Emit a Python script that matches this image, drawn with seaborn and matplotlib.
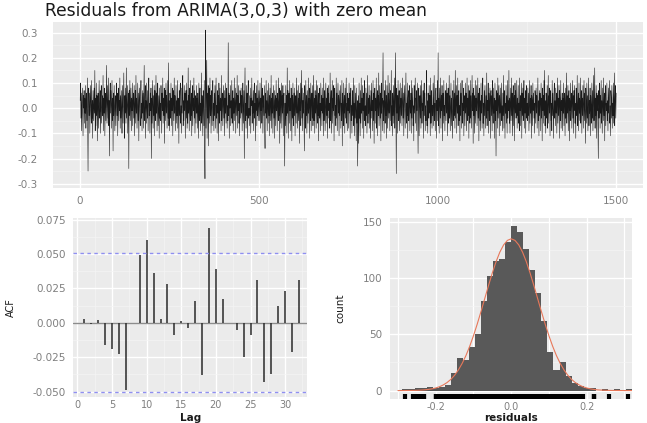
import numpy as np
import pandas as pd
import matplotlib
matplotlib.use("Agg")
import matplotlib.pyplot as plt
import seaborn as sns
from matplotlib.ticker import FixedLocator


# residuals (in hundredths), t = 1..1500, blocks of 250
res_a = [
    3, 10, -4, 6, -9, 2, 8, -3, -11, 5, 0, 7, -6, 4, -2, 9, -8, 1, 6, -5, 12, -7, -25, 4, 8,
    -3, 6, -10, 2, 9, -1, -6, 11, -4, 3, -12, 7, 0, -5, 8, -2, 15, -9, 4, -7, 10, -3, 5, -13, 1,
    6, -8, 2, 11, -4, -1, 7, -10, 3, 9, -6, 0, 5, -3, 13, -9, 4, -2, 8, -11, 1, 6, -5, 3, 17,
    -6, 2, 9, -4, 12, -7, 3, -19, 5, 10, -2, 7, -8, 1, 11, -5, 4, -17, 6, -3, 9, 0, -9, 5, 2,
    -7, 4, 10, -3, 6, -11, 1, 8, -5, 3, -1, 12, -8, 5, -4, 7, 0, -10, 9, 2, -6, 4, 14, -3, -12,
    5, -2, 8, -6, 16, -4, 3, 9, -10, 1, 6, -24, 7, -3, 11, -5, 2, 8, -9, 4, -1, 10, -7, 3, 6,
    -4, 9, -11, 2, 7, -6, 13, -2, 4, -8, 1, 10, -5, 6, -13, 3, 8, -1, -7, 5, 11, -4, 2, -9, 7,
    -2, 6, -8, 4, 17, -5, 1, 9, -12, 3, -6, 10, 0, -4, 7, -9, 5, 12, -3, 2, -10, 6, -1, 8, -20,
    4, -6, 11, 1, -8, 5, -3, 9, -11, 7, 2, -5, 13, -2, 6, -9, 3, 10, -7, 0, 5, -12, 8, -4, 2,
    -5, 9, 3, -10, 6, -1, 12, -6, 4, -3, 8, -14, 2, 7, -5, 10, -2, 5, -8, 1, 11, -4, 18, -7, 3,
]
res_b = [
    -9, 6, 2, -4, 10, -7, 4, -1, 8, -11, 3, 7, -5, 12, -2, 5, -9, 0, 9, -6, 3, -3, 11, -8, 4,
    2, -14, 7, -3, 5, 10, -6, 1, -10, 8, -2, 4, 13, -7, 3, -5, 9, -1, 6, -12, 2, 7, -4, 10, -8,
    3, -6, 16, -2, 5, -9, 8, 0, -5, 11, -3, 6, -11, 2, 9, -7, 4, -1, 12, -4, 7, -10, 3, 5, -6,
    9, -2, 4, -8, 6, 1, -12, 10, -5, 3, 8, -9, 2, -3, 14, -6, 5, -1, -11, 7, 3, -7, 11, -15, -28,
    10, 31, -8, 4, 19, -12, 6, -4, 9, -15, 2, 8, -6, 12, -3, 5, -10, 7, 1, -7, 4, 11, -5, 2, -9,
    6, -3, 9, -8, 3, 12, -4, 1, -10, 7, -2, 5, -13, 10, 0, -6, 8, -1, 4, -9, 13, -5, 3, 6, -7,
    2, 9, -4, 7, -11, 4, -2, 10, -6, 3, 8, -8, 1, -5, 26, -3, 6, -12, 5, 0, 9, -7, 3, -4, 11,
    -6, 2, 7, -9, 4, -2, 12, -5, 1, 8, -10, 3, 6, -3, 13, -8, 5, -1, 9, -6, 2, -11, 7, 4, -4,
    8, -2, 5, -9, 3, 10, -6, 1, 7, -20, 4, 16, -5, 2, -8, 9, -3, 6, -12, 3, 11, -4, 0, -7, 5,
    -3, 8, -10, 4, 1, 12, -6, 3, -2, 7, -9, 5, 10, -4, 2, -13, 6, -1, 9, -7, 4, -3, 11, -5, 1,
]
res_c = [
    7, -5, 2, 10, -8, 4, -1, 12, -6, 3, 8, -10, 1, 5, -3, 9, -7, -16, 6, -2, 11, -4, 3, -9, 7,
    0, -6, 10, -3, 5, -11, 8, 2, -5, 13, -8, 4, -2, 6, -10, 1, 9, -4, 7, -12, 3, 5, -7, 11, -1,
    4, -9, 6, 2, -5, 12, -3, 8, -14, 1, 7, -6, 3, 10, -8, 5, -2, 9, -11, 4, 6, -4, -23, 2, -7,
    9, -3, 5, -10, 16, -2, 7, -12, 3, 6, -6, 11, -1, 4, -9, 8, 2, -13, 5, -4, 10, -7, 1, 6, -3,
    8, -11, 3, 5, -6, 12, -2, 7, -8, 1, 9, -5, 4, -14, 6, -1, 10, -7, 2, 15, -4, 8, -9, 3, -2,
    6, -5, -17, 9, 2, -8, 11, -3, 5, -10, 7, 1, -6, 12, -2, 4, -12, 8, 3, -5, 10, -9, 2, 6, -4,
    9, -7, 1, 13, -5, 4, -10, 7, -2, 5, -8, 11, 0, -6, 9, -3, 6, -13, 3, 8, -4, 2, -9, 10, -1,
    5, -7, 8, -2, 4, -11, 12, -5, 3, 7, -9, 1, 10, -6, 4, -3, 8, -12, 6, -1, 9, -4, 2, -8, 14,
    -5, 3, 7, -10, 2, 11, -6, 4, -1, 9, -13, 5, 8, -3, 1, -7, 12, -4, 6, -9, 3, 10, -2, 5, -11,
    7, -3, 4, 9, -8, 2, -5, 11, -15, 6, 1, -7, 10, -2, 5, -10, 8, -4, 3, 12, -6, 2, -9, 6, -1,
]
res_d = [
    4, -8, 10, -2, 6, -12, 3, 8, -5, 1, -10, 7, 5, -3, 12, -7, 2, -11, 9, -4, 6, -1, -13, 8, -6,
    3, -23, -9, 5, -14, 10, -4, 2, -11, 7, -6, 12, -2, 4, -8, 9, -1, 6, -12, 3, 11, -5, 1, -7, 8,
    -3, 6, -10, 2, 13, -6, 4, -2, 9, -8, 5, 1, -12, 7, -4, 10, -1, 3, -9, 11, -5, 6, -14, 2, 8,
    -6, 4, -1, 12, -8, 3, 7, -11, 5, -3, 14, -7, 1, 9, -4, 6, -13, 10, -2, 4, -9, 8, 22, -5, 3,
    -10, 7, 2, -6, 11, -3, 5, -12, 9, 0, -8, 13, -4, 6, -2, 10, -9, 3, 7, -5, 15, -7, 1, -11, 6,
    -3, 9, -6, 4, 12, -8, 2, 22, -4, -26, 8, -2, 5, -10, 11, -5, 3, 7, -9, 1, 10, -6, 4, -3, 8,
    -7, 2, 12, -4, 6, -11, 3, 9, -1, -8, 5, 14, -6, 2, -3, 10, -12, 4, 7, -5, 1, 9, -9, 3, -2,
    6, -10, 11, -4, 3, 8, -7, 1, -13, 9, -2, 5, 12, -6, 4, -9, 7, -1, 10, -5, -18, 3, 8, -11, 2,
    5, -4, 9, -8, 3, 11, -6, 2, -1, 7, -12, 4, 10, -3, 6, -9, 1, -5, 8, 15, -7, 3, -10, 6, 0,
    -4, 9, -2, 5, -11, 12, -6, 3, 7, -8, 1, -3, 10, -7, 4, 13, -5, 2, -9, 6, 8, -12, 3, -1, 11,
]
res_e = [
    -5, 22, -7, 4, -10, 8, 2, -4, 12, -8, 5, -1, 9, -13, 3, 6, -6, 11, -3, 1, -9, 7, 4, -5, 10,
    -2, 6, -11, 3, 8, -6, 1, 13, -4, 5, -9, 2, 10, -7, 4, -1, -12, 7, 3, -5, 11, -3, 6, -8, 15,
    -4, 2, 9, -10, 5, -2, 12, -7, 3, 7, -5, 1, -13, 10, -3, 6, -8, 4, 11, -6, 2, -1, 8, -11, 5,
    3, -7, 10, -2, 6, -9, 1, 12, -5, 4, -3, 9, -12, 7, 2, -6, 11, -4, 5, -8, 3, 13, -1, 6, -14,
    8, -3, 5, -10, 2, 11, -6, 4, -1, 9, -7, 3, 12, -4, 6, -13, 1, 8, -5, 3, -9, 10, -2, 5, -8,
    4, 12, -6, 2, -11, 7, -3, 9, 1, -8, 5, -4, 14, -7, 3, -1, 10, -10, 6, 2, -5, 8, -12, 4, 7,
    -3, 5, -9, 11, 0, -6, 8, -2, 4, -12, 10, -5, 3, -19, 7, -1, 6, -8, 12, -4, 2, 9, -11, 5, -2,
    8, -7, 3, 10, -5, 1, -9, 6, -3, 13, -8, 4, 7, -12, 2, -2, 9, -6, 5, -10, 11, -4, 3, -1, 15,
    -6, 4, -10, 8, 2, -5, 12, -3, 6, -11, 1, 9, -7, 3, 5, -13, 10, -2, 7, -4, 0, 11, -8, 4, -3,
    9, -6, 2, -9, 12, -1, 5, -7, 3, 10, -12, 6, -3, 8, -5, 1, 11, -8, 4, -2, 7, -10, 3, 9, -4,
]
res_f = [
    2, -5, 8, -3, 6, -9, 1, 11, -6, 4, -2, 9, -12, 5, 3, -7, 10, -1, 6, -4, 2, -10, 7, 4, -6,
    8, -2, 5, -8, 1, 12, -5, 3, -11, 7, -3, 6, 2, -9, 10, -4, 4, -13, 8, -1, 5, -6, 11, -3, 15,
    -7, 3, -10, 6, 2, -4, 9, -8, 1, 13, -6, 5, -2, 8, -11, 4, 7, -5, 2, -9, 11, -3, 6, -1, -12,
    5, 10, -4, 3, -7, 8, -2, 6, -10, 1, 12, -6, 4, -3, 9, -12, 7, 2, -5, 11, -8, 3, -1, 6, -9,
    4, -2, 10, -7, 3, 6, -11, 8, -4, 1, 14, -6, 5, -2, 9, -9, 3, 7, -13, 4, -1, 10, -5, 2, 6,
    -8, 3, 11, -4, 5, -10, 7, -1, 9, -6, 2, -12, 8, 4, -3, 13, -7, 1, 6, -9, 10, -2, 4, -5, 12,
    -6, 2, 7, -10, 4, -3, 9, -8, 1, 11, -5, 6, -1, -14, 8, 3, -6, 10, -4, 5, -9, 2, 12, -7, 3,
    -2, 8, -11, 5, 1, -6, 10, -4, 7, -9, 3, 13, -5, 2, 16, -8, 4, -3, 9, -12, 6, -1, 5, -7, -20,
    7, -4, 2, 10, -8, 5, -2, 11, -6, 3, -10, 8, 1, -5, 12, -3, 6, -13, 4, 9, -7, 2, -1, 10, -5,
    3, -9, 8, -2, 5, 11, -6, 1, -11, 7, 4, -4, 9, -8, 2, -3, 10, -6, 5, 14, -7, 3, 9, -4, 6,
]

# ACF of the residuals, lags 1..32
lags = list(range(1, 33))
acf_vals = [0.003, -0.001, 0.002, -0.0165, -0.019, -0.023, -0.049, -0.0005,
            0.049, 0.060, 0.036, 0.003, 0.028, -0.009, 0.001, -0.004,
            0.016, -0.038, 0.069, 0.039, 0.017, 0.0, -0.005, -0.025,
            -0.009, 0.031, -0.043, -0.037, 0.012, 0.023, -0.021, 0.031]
ci = 0.0506

# histogram counts, bins of width 0.016 starting at -0.288
hist_counts = [1, 1, 2, 2, 3, 2, 3, 5, 16, 29, 27, 39, 50, 80, 102, 115, 117, 132,
               146, 141, 126, 107, 87, 62, 34, 18, 25, 13, 7, 4, 2, 2, 0, 1, 0, 1, 0, 1]
bin_start = -0.288
bin_width = 0.016

# fitted normal curve (counts scale), read at steps of 0.01
curve_x = [-0.30, -0.29, -0.28, -0.27, -0.26, -0.25, -0.24, -0.23, -0.22, -0.21,
           -0.20, -0.19, -0.18, -0.17, -0.16, -0.15, -0.14, -0.13, -0.12, -0.11,
           -0.10, -0.09, -0.08, -0.07, -0.06, -0.05, -0.04, -0.03, -0.02, -0.01,
           0.00, 0.01, 0.02, 0.03, 0.04, 0.05, 0.06, 0.07, 0.08, 0.09,
           0.10, 0.11, 0.12, 0.13, 0.14, 0.15, 0.16, 0.17, 0.18, 0.19,
           0.20, 0.21, 0.22, 0.23, 0.24, 0.25, 0.26, 0.27, 0.28, 0.29,
           0.30, 0.31, 0.32]
curve_y = [0.01, 0.02, 0.05, 0.08, 0.14, 0.23, 0.38, 0.61, 0.97, 1.5,
           2.3, 3.4, 5.0, 7.1, 9.9, 13.6, 18.3, 24.1, 31.0, 39.3,
           48.7, 59.1, 70.3, 81.9, 93.5, 104.6, 114.7, 123.2, 129.6, 133.6,
           135.0, 133.6, 129.6, 123.2, 114.7, 104.6, 93.5, 81.9, 70.3, 59.1,
           48.7, 39.3, 31.0, 24.1, 18.3, 13.6, 9.9, 7.1, 5.0, 3.4,
           2.3, 1.5, 0.97, 0.61, 0.38, 0.23, 0.14, 0.08, 0.05, 0.02,
           0.01, 0.01, 0.004]

TXT = "#7F7F7F"


def style_ax(ax, xmaj, xmin, ymaj, ymin):
    ax.set_facecolor("#EBEBEB")
    for s in ax.spines.values():
        s.set_visible(False)
    ax.xaxis.set_major_locator(FixedLocator(xmaj))
    ax.xaxis.set_minor_locator(FixedLocator(xmin))
    ax.yaxis.set_major_locator(FixedLocator(ymaj))
    ax.yaxis.set_minor_locator(FixedLocator(ymin))
    ax.grid(which="major", color="white", lw=1.0)
    ax.grid(which="minor", color="#F5F5F5", lw=0.5)
    ax.set_axisbelow(True)
    ax.tick_params(which="major", length=3, width=0.8, color=TXT, labelcolor=TXT,
                   labelsize=7.5, pad=2.5)
    ax.tick_params(which="minor", length=0)


def make_plot():
    sns.set_style("white")
    plt.rcParams["font.family"] = ["DejaVu Sans"]

    res = np.array(res_a + res_b + res_c + res_d + res_e + res_f) * 0.01
    ts = pd.DataFrame({"t": np.arange(1, len(res) + 1), "res": res})

    fig = plt.figure(figsize=(6.47, 4.23), dpi=100)

    # top: residual series
    ax1 = fig.add_axes([53 / 647, 1 - 188 / 423, 590 / 647, 166 / 423])
    sns.lineplot(data=ts, x="t", y="res", color="#1A1A1A", lw=0.4, ax=ax1)
    ax1.set(xlim=(-75, 1575), ylim=(-0.317, 0.342), xlabel="", ylabel="")
    style_ax(ax1, [0, 500, 1000, 1500], [250, 750, 1250],
             [-0.3, -0.2, -0.1, 0.0, 0.1, 0.2, 0.3],
             [-0.25, -0.15, -0.05, 0.05, 0.15, 0.25])
    ax1.set_yticklabels(["-0.3", "-0.2", "-0.1", "0.0", "0.1", "0.2", "0.3"])
    ax1.tick_params(axis="y", pad=8)
    fig.text(45 / 647, 1 - 11 / 423, "Residuals from ARIMA(3,0,3) with zero mean",
             fontsize=12.3, color="#1A1A1A", va="center", ha="left")

    # bottom left: ACF
    ax2 = fig.add_axes([73.3 / 647, 1 - 397 / 423, 234 / 647, 179 / 423])
    ax2.axhline(0, color="#8C8C8C", lw=1.0, zorder=1)
    ax2.vlines(lags, 0, acf_vals, color="#2B2B2B", lw=1.1, zorder=2)
    for c in (ci, -ci):
        ax2.axhline(c, color="#8F8FF0", lw=1.0, ls=(0, (2.5, 2.5)), zorder=2)
    ax2.set(xlim=(-0.6, 33.2), ylim=(-0.054, 0.0762))
    style_ax(ax2, [0, 5, 10, 15, 20, 25, 30], [2.5, 7.5, 12.5, 17.5, 22.5, 27.5, 32.5],
             [-0.05, -0.025, 0.0, 0.025, 0.05, 0.075],
             [-0.0375, -0.0125, 0.0125, 0.0375, 0.0625])
    ax2.set_yticklabels(["-0.050", "-0.025", "0.000", "0.025", "0.050", "0.075"])
    ax2.tick_params(axis="x", pad=0.5, length=2, labelsize=7)
    ax2.set_xlabel("Lag", fontsize=7.5, fontweight="bold", color="#1A1A1A", va="center")
    ax2.xaxis.set_label_coords(0.5, -(417.5 - 397) / 179)
    ax2.set_ylabel("ACF", fontsize=7, color="#1A1A1A", va="center")
    ax2.yaxis.set_label_coords(-(73.3 - 10.5) / 234, 0.5)

    # bottom right: histogram with rug and normal curve
    ax3 = fig.add_axes([390 / 647, 1 - 399 / 423, 242 / 647, 181 / 423])
    n_bins = len(hist_counts)
    centers = [bin_start + bin_width * (i + 0.5) for i in range(n_bins)]
    hist_df = pd.DataFrame({"x": centers, "n": hist_counts})
    sns.histplot(data=hist_df, x="x", weights="n", binwidth=bin_width,
                 binrange=(bin_start, bin_start + bin_width * n_bins),
                 color="#595959", alpha=1, linewidth=0, ax=ax3)
    sns.lineplot(x=curve_x, y=curve_y, color="#E8785A", lw=0.8, ax=ax3)
    sns.rugplot(x=res, height=0.03, color="black", linewidth=3.0, ax=ax3)
    ax3.set(xlim=(-0.321, 0.320), ylim=(-7.5, 153.5))
    style_ax(ax3, [-0.2, 0.0, 0.2], [-0.3, -0.1, 0.1, 0.3],
             [0, 50, 100, 150], [25, 75, 125])
    ax3.grid(which="minor", axis="x", color="white", lw=0.9)
    ax3.set_xticklabels(["-0.2", "0.0", "0.2"])
    ax3.tick_params(axis="x", pad=0.5, length=2, labelsize=7)
    ax3.set_xlabel("residuals", fontsize=7.5, fontweight="bold", color="#1A1A1A", va="center")
    ax3.xaxis.set_label_coords(0.5, -(417.5 - 399) / 181)
    ax3.set_ylabel("count", fontsize=7.5, color="#1A1A1A", va="center")
    ax3.yaxis.set_label_coords(-(390 - 340) / 242, 0.5)

    fig.savefig("out.png", dpi=100)


if __name__ == "__main__":
    make_plot()
